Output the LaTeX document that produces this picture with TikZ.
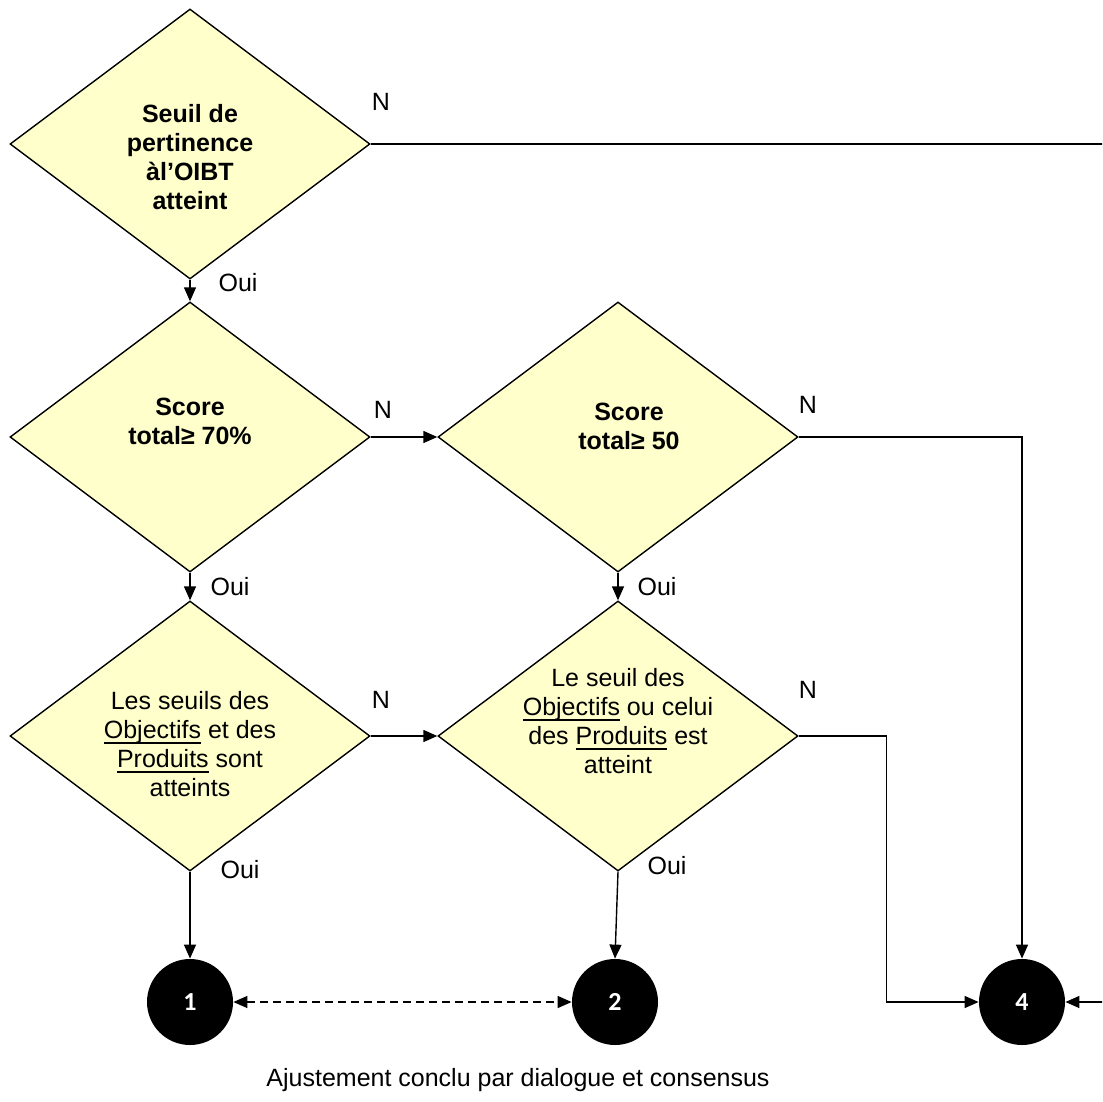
\documentclass[tikz,border=0pt]{standalone}
\usepackage{fontspec}
\setmainfont{Liberation Sans}
\newfontfamily\numfont{Carlito}
\usetikzlibrary{shapes.geometric,arrows.meta}
\definecolor{dfill}{HTML}{FFFFCC}
\newcommand{\myul}[1]{{\setbox0\hbox{#1}\rlap{\rule[-2.6pt]{\wd0}{0.6pt}}\box0}}
\begin{document}
\begin{tikzpicture}[x=0.5pt,y=-0.5pt,
  dec/.style={diamond,draw=black,fill=dfill,line width=0.7pt,inner sep=0pt,minimum width=180pt,minimum height=135pt},
  dtext/.style={align=center,font=\fontsize{12.5pt}{14.5pt}\selectfont,inner sep=0pt},
  dbold/.style={dtext,font=\fontsize{12.5pt}{14.5pt}\selectfont\bfseries},
  lab/.style={font=\fontsize{12.5pt}{14.5pt}\selectfont,inner sep=0pt},
  endc/.style={circle,fill=black,minimum size=43pt,inner sep=0pt,text=white,font=\numfont\bfseries\fontsize{13pt}{15pt}\selectfont},
  tip/.tip={Triangle[length=7pt,width=6pt]},
  conn/.style={line width=0.7pt,-tip},
  plain/.style={line width=0.7pt}]
\useasboundingbox (0,0) rectangle (1102,1102);
\clip (0,0) rectangle (1102,1102);
% diamonds
\node[dec] (d1) at (190,144) {};
\node[dec] (d2) at (190,437) {};
\node[dec] (d3) at (618,437) {};
\node[dec] (d4) at (190,736) {};
\node[dec] (d5) at (618,736) {};
% diamond texts
\node[dbold] (t1) at (190,157) {Seuil de\\pertinence\\àl’OIBT\\atteint};
\node[dbold] (t2) at (190,421) {Score\\total≥ 70\%};
\node[dbold] (t3) at (629,426) {Score\\total≥ 50};
\node[dtext] (t4) at (190,744) {Les seuils des\\\myul{Objectifs} et des\\\myul{Produits} sont\\atteints};
\node[dtext] (t5) at (618,721) {Le seuil des\\\myul{Objectifs} ou celui\\des \myul{Produits} est\\atteint};
% end circles
\node[endc] (c1) at (190,1002) {1};
\node[endc] (c2) at (615,1002) {2};
\node[endc] (c4) at (1022,1002) {4};
% off-page coordinate
\coordinate (offr) at (1140,144);
% connectors
\draw[conn] (d1.south) -- (d2.north);
\draw[conn] (d1.east) -- (offr) |- (c4.east);
\draw[conn] (d2.east) -- (d3.west);
\draw[conn] (d2.south) -- (d4.north);
\draw[conn] (d3.east) -| (c4.north);
\draw[conn] (d3.south) -- (d5.north);
\draw[conn] (d4.east) -- (d5.west);
\draw[conn] (d5.east) -- ++(88,0) |- (c4.west);
\draw[conn] (d4.south) -- (c1.north);
\draw[conn] (d5.south) -- (c2.north);
\draw[line width=0.7pt,dash pattern=on 4pt off 2.5pt,tip-tip] (c1.east) -- (c2.west);
% labels
\node[lab] (n1) at (381,102) {N};
\node[lab] (o1) at (238,283) {Oui};
\node[lab] (n2) at (383,410) {N};
\node[lab] (n3) at (808,405) {N};
\node[lab] (o2) at (230,587) {Oui};
\node[lab] (o3) at (657,587) {Oui};
\node[lab] (n4) at (381,700) {N};
\node[lab] (n5) at (808,690) {N};
\node[lab] (o4) at (240,870) {Oui};
\node[lab] (o5) at (667,866) {Oui};
\node[lab] (cap) at (518,1080) {Ajustement conclu par dialogue et consensus};
\end{tikzpicture}
\end{document}
